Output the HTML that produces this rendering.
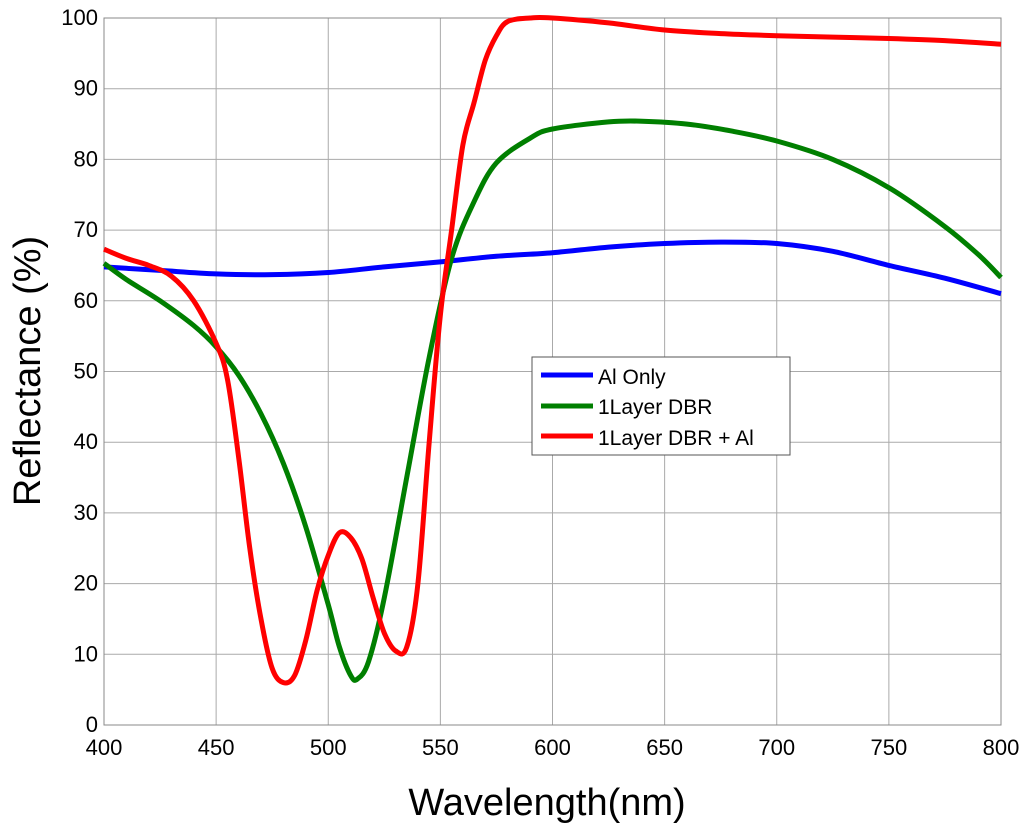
<!DOCTYPE html>
<html><head><meta charset="utf-8"><style>
body{margin:0;background:#fff;}
svg{display:block;font-family:"Liberation Sans",Arial,sans-serif;}
</style></head><body>
<svg id="chart" width="1024" height="831" xmlns="http://www.w3.org/2000/svg">
<g id="grid"></g>
<g id="series"></g>
<g id="ticks"></g>
<text x="547" y="815" font-size="38" text-anchor="middle">Wavelength(nm)</text>
<text transform="translate(40,371) rotate(-90)" font-size="38" text-anchor="middle">Reflectance (%)</text>
<g>
<rect x="532" y="357" width="258" height="98" fill="#fff" stroke="#555" stroke-width="1"/>
<line x1="541" y1="375" x2="593" y2="375" stroke="#0000ff" stroke-width="5"/>
<text x="598" y="384" font-size="21">Al Only</text>
<line x1="541" y1="406" x2="593" y2="406" stroke="#007f00" stroke-width="5"/>
<text x="598" y="414" font-size="21">1Layer DBR</text>
<line x1="541" y1="436" x2="593" y2="436" stroke="#ff0000" stroke-width="5"/>
<text x="598" y="445" font-size="21">1Layer DBR + Al</text>
</g>
</svg>
<script>
const xTicks=[400,450,500,550,600,650,700,750,800];
const yTicks=[0,10,20,30,40,50,60,70,80,90,100];
const alX=[400,425,450,475,500,525,550,575,600,625,650,675,700,725,750,775,800];
const alY=[64.8,64.3,63.8,63.7,64.0,64.8,65.5,66.3,66.8,67.6,68.1,68.3,68.1,67.0,65.0,63.2,61.0];
const dbrX=[400,410,425,440,450,460,470,480,490,500,505,510,513,518,525,535,545,555,565,575,590,600,625,640,660,680,700,725,750,775,790,800];
const dbrY=[65.3,63,60,56.5,53.5,49.5,44,37,28,17,11,7,6.5,9,18,35,52,66,74,79.5,83,84.3,85.3,85.4,85,84,82.6,80,76,70.5,66.5,63.3];
const redX=[400,410,420,430,440,450,455,460,465,470,475,480,485,490,495,500,505,510,515,520,525,530,535,540,545,550,555,560,565,570,575,580,590,600,625,650,675,700,725,750,775,800];
const redY=[67.3,66,65,63.5,60,54,49,38,25,15,8,6,7,12,19,24,27.2,26.5,23.5,18,13,10.5,11,20,40,58,70,82,88,94,97.5,99.5,100,100,99.3,98.3,97.8,97.5,97.3,97.1,96.8,96.3];
const X0=104,X1=1001,Y0=725,Y1=18;
const sx=v=>X0+(v-400)/400*(X1-X0);
const sy=v=>Y0-v/100*(Y0-Y1);
const NS="http://www.w3.org/2000/svg";
function mk(t,a,p){const e=document.createElementNS(NS,t);for(const k in a)e.setAttribute(k,a[k]);p.appendChild(e);return e;}
function smooth(xs,ys){const P=xs.map((x,i)=>[sx(x),sy(ys[i])]);let d='M'+P[0][0].toFixed(1)+','+P[0][1].toFixed(1);
for(let i=0;i<P.length-1;i++){const p0=P[Math.max(0,i-1)],p1=P[i],p2=P[i+1],p3=P[Math.min(P.length-1,i+2)];
const c1=[p1[0]+(p2[0]-p0[0])/6,p1[1]+(p2[1]-p0[1])/6],c2=[p2[0]-(p3[0]-p1[0])/6,p2[1]-(p3[1]-p1[1])/6];
d+='C'+c1.map(v=>v.toFixed(1)).join(',')+' '+c2.map(v=>v.toFixed(1)).join(',')+' '+p2[0].toFixed(1)+','+p2[1].toFixed(1);}
return d;}
const grid=document.getElementById('grid'),ticks=document.getElementById('ticks'),ser=document.getElementById('series');
xTicks.forEach(v=>{const l=mk('line',{x1:sx(v),x2:sx(v),y1:Y1,y2:Y0,stroke:'#aaa','stroke-width':1},grid);


const t=mk('text',{x:sx(v),y:755,'font-size':22,'text-anchor':'middle'},ticks);t.textContent=v;

});
yTicks.forEach(v=>{const l=mk('line',{x1:X0,x2:X1,y1:sy(v),y2:sy(v),stroke:'#aaa','stroke-width':1},grid);


const t=mk('text',{x:98,y:sy(v)+7,'font-size':22,'text-anchor':'end'},ticks);t.textContent=v;

});
const fr=mk('rect',{x:X0,y:Y1,width:X1-X0,height:Y0-Y1,fill:'none',stroke:'#888','stroke-width':1},grid);


[[alX,alY,'#0000ff','line-al-only'],[dbrX,dbrY,'#007f00','line-1layer-dbr'],[redX,redY,'#ff0000','line-1layer-dbr-al']].forEach(s=>{
const p=mk('path',{d:smooth(s[0],s[1]),fill:'none',stroke:s[2],'stroke-width':5,'stroke-linejoin':'round'},ser);

});
</script>
</body></html>
